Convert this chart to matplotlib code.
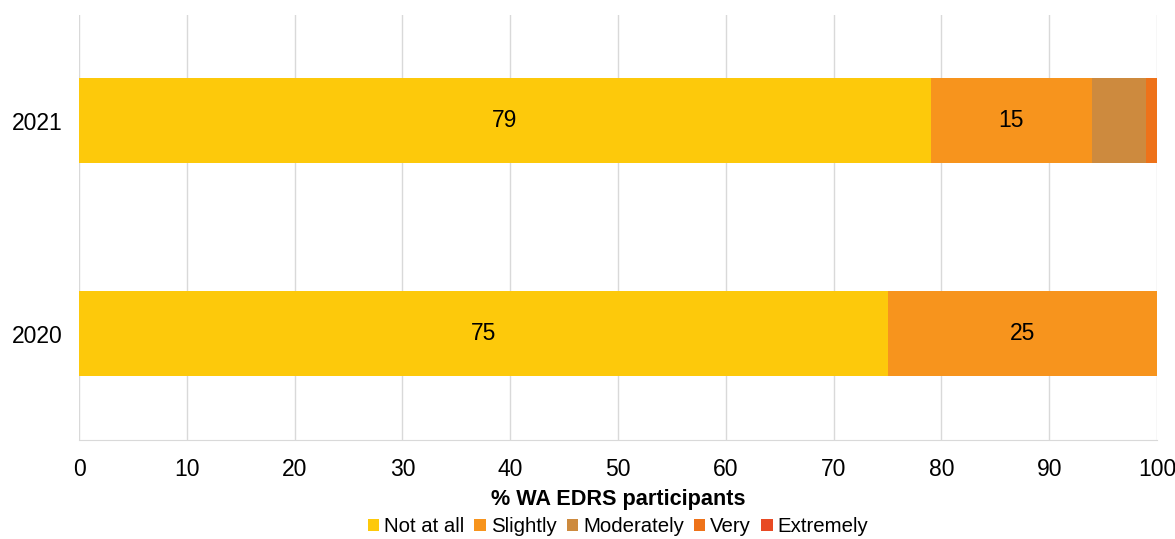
import matplotlib
matplotlib.use("Agg")
import matplotlib.pyplot as plt
from matplotlib.patches import Patch

plt.rcParams['font.family'] = ['Liberation Sans', 'DejaVu Sans']

years = ["2020", "2021"]
categories = ["Not at all", "Slightly", "Moderately", "Very", "Extremely"]
values = {
    "Not at all": [75, 79],
    "Slightly": [25, 15],
    "Moderately": [0, 5],
    "Very": [0, 1],
    "Extremely": [0, 0],
}
colors = ["#FDC90B", "#F7941D", "#CD8A3E", "#EE7219", "#E84A24"]

FS = 16.5
fig = plt.figure(figsize=(11.75, 5.39), dpi=100)
ax = fig.add_axes([79/1175, 99/539, (1157-79)/1175, (440-14.5)/539])

ypos = list(range(len(years)))
left = [0]*len(years)
for cat, col in zip(categories, colors):
    vals = values[cat]
    ax.barh(ypos, vals, left=left, height=0.4, color=col, zorder=3)
    for y, v, l in zip(ypos, vals, left):
        if v >= 10:
            ax.text(l + v/2, y, f"{v}", ha="center", va="center", fontsize=FS, color="black", zorder=4)
    left = [a+b for a, b in zip(left, vals)]

ax.set_xlim(0, 100)
ax.set_ylim(-0.5, 1.5)
ax.set_xticks(range(0, 101, 10))
ax.set_yticks(ypos)
ax.set_yticklabels(years)
ax.tick_params(axis='both', length=0, labelsize=FS)
ax.tick_params(axis='x', pad=13)
ax.tick_params(axis='y', pad=12)
ax.xaxis.grid(True, color="#D9D9D9", linewidth=1, zorder=0)
ax.set_axisbelow(True)
for s in ["top", "right", "left"]:
    ax.spines[s].set_visible(False)
ax.spines["bottom"].set_color("#D9D9D9")
ax.set_xlabel("% WA EDRS participants", fontsize=15.6, fontweight="bold", labelpad=6)

handles = [Patch(facecolor=c, edgecolor='none') for c in colors]
fig.legend(handles, categories, loc="center", bbox_to_anchor=(618/1175, 1-527/539),
           ncol=5, frameon=False, fontsize=14.7, handlelength=0.55, handleheight=0.55,
           handletextpad=0.25, columnspacing=0.5, borderaxespad=0, borderpad=0)

fig.savefig("out.png", dpi=100)
